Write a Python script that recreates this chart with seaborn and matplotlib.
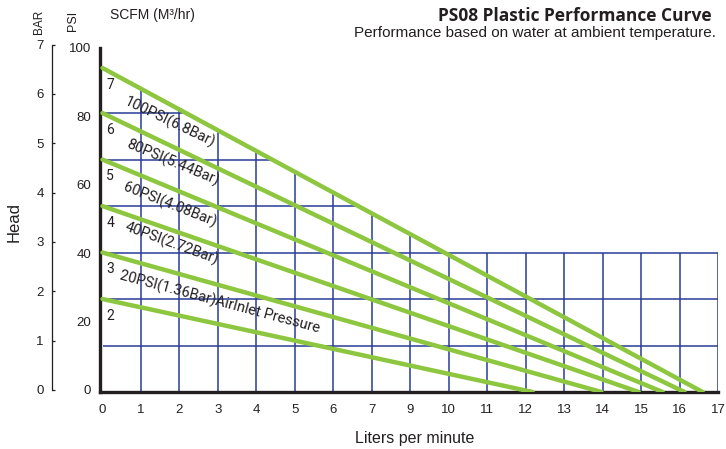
import numpy as np
import pandas as pd
import matplotlib
matplotlib.use("Agg")
import matplotlib.pyplot as plt
import seaborn as sns

# ---------------- data ----------------
flow_tick_labels = ["0", "1", "2", "3", "4", "5", "6", "7", "9", "10",
                    "11", "12", "13", "14", "15", "16", "17"]
curve_numbers = [7, 6, 5, 4, 3, 2]
head_at_zero_flow = [6.97, 6.0, 5.0, 4.0, 3.0, 2.0]          # grid units
flow_at_zero_head = [15.6, 15.13, 14.56, 13.94, 12.97, 11.18]  # tick-slot units
pressure_labels = ["100PSI(6.8Bar)", "80PSI(5.44Bar)", "60PSI(4.08Bar)",
                   "40PSI(2.72Bar)", "20PSI(1.36Bar)AirInlet Pressure"]
psi_ticks = [0, 20, 40, 60, 80, 100]
bar_ticks = [0, 1, 2, 3, 4, 5, 6, 7]

rows = []
for c, h, f in zip(curve_numbers, head_at_zero_flow, flow_at_zero_head):
    rows.append({"flow": 0.0, "head": h, "curve": c})
    rows.append({"flow": f, "head": 0.0, "curve": c})
df = pd.DataFrame(rows)

# ---------------- style ----------------
sns.set_theme(style="white")
plt.rcParams["font.family"] = ["Liberation Sans", "DejaVu Sans"]

GREEN = "#8dc63f"
BLUE = "#2a3c96"
BLACK = "#231f20"
W, H = 726, 449

fig = plt.figure(figsize=(W / 100, H / 100), dpi=100)
fig.patch.set_facecolor("white")

ax = fig.add_axes([100 / W, 1 - 392 / H, 618 / W, 344 / H])
ax.set_xlim(-0.065, 16.0)
ax.set_ylim(0, 7.40)
ax.set_facecolor("white")

# grid restricted to area under the top curve / lower rectangle
top_h, top_f = head_at_zero_flow[0], flow_at_zero_head[0]
for i in range(1, 17):
    ytop = max(top_h * (1 - i / top_f), 3.0)
    ax.vlines(i, 0, ytop, color=BLUE, lw=1.1, zorder=1)
for k in range(1, 7):
    xend = 16.0 if k <= 3 else top_f * (1 - k / top_h)
    ax.hlines(k, 0, xend, color=BLUE, lw=1.1, zorder=1)

sns.lineplot(data=df, x="flow", y="head", units="curve", estimator=None,
             sort=False, color=GREEN, linewidth=3.2, ax=ax, legend=False,
             zorder=3)
ax.set_xlabel("")
ax.set_ylabel("")

ax.set_xticks(range(len(flow_tick_labels)))
ax.set_xticklabels(flow_tick_labels, fontsize=9.5, color=BLACK)
ax.set_yticks([])
ax.tick_params(axis="x", length=0, pad=8.5)
for s in ["top", "right"]:
    ax.spines[s].set_visible(False)
for s in ["left", "bottom"]:
    ax.spines[s].set_color(BLACK)
    ax.spines[s].set_linewidth(2.4)

# curve numbers
for c, h in zip(curve_numbers, head_at_zero_flow):
    ax.text(0.2, h - 0.36, str(c), fontsize=10, family="Roboto",
            color=BLACK, ha="center", va="center")

# pressure labels
label_pos = [(1.76, 5.80, -25.5), (1.82, 4.94, -22.5), (1.74, 4.03, -21.5),
             (1.79, 3.19, -20), (3.04, 1.93, -15)]
for txt, (x, y, r) in zip(pressure_labels, label_pos):
    ax.text(x, y, txt, fontsize=10.5, family="Roboto", color=BLACK,
            rotation=r, ha="center", va="center", rotation_mode="anchor")

# BAR axis
ax_bar = fig.add_axes([52 / W, 1 - 390 / H, 10 / W, (390 - 44.5) / H])
ax_bar.set_ylim(0, 7)
ax_bar.set_xlim(0, 1)
ax_bar.patch.set_alpha(0)
for s in ["top", "right", "bottom"]:
    ax_bar.spines[s].set_visible(False)
ax_bar.spines["left"].set_color(BLACK)
ax_bar.spines["left"].set_linewidth(0.9)
ax_bar.set_xticks([])
ax_bar.set_yticks(bar_ticks)
ax_bar.set_yticklabels([str(b) for b in bar_ticks], fontsize=9.5, color=BLACK)
ax_bar.set_yticks([0, 7], minor=True)
ax_bar.tick_params(axis="y", which="major", direction="in", length=2.5,
                   width=0.9, color=BLACK, pad=6, left=True)
ax_bar.tick_params(axis="y", which="minor", direction="in", length=4.5,
                   width=0.9, color=BLACK, left=True)

# PSI axis (labels only)
ax_psi = fig.add_axes([91 / W, 1 - 390 / H, 4 / W, (390 - 48) / H])
ax_psi.set_ylim(0, 100)
ax_psi.patch.set_alpha(0)
for s in ax_psi.spines.values():
    s.set_visible(False)
ax_psi.set_xticks([])
ax_psi.set_yticks(psi_ticks)
ax_psi.set_yticklabels([str(p) for p in psi_ticks], fontsize=9.5, color=BLACK)
ax_psi.tick_params(axis="y", length=0, pad=0)

# header texts
fig.text(39 / W, 1 - 22 / H, "BAR", rotation=90, fontsize=8.5, color=BLACK,
         ha="center", va="center")
fig.text(73 / W, 1 - 21 / H, "PSI", rotation=90, fontsize=9, color=BLACK,
         ha="center", va="center")
fig.text(110 / W, 1 - 15 / H, "SCFM (M³/hr)", fontsize=10, color=BLACK,
         ha="left", va="center")
fig.text(14 / W, 1 - 222 / H, "Head", rotation=90, fontsize=12, color=BLACK,
         ha="center", va="center")
fig.text(415 / W, 1 - 438 / H, "Liters per minute", fontsize=11.5,
         color=BLACK, ha="center", va="center")
fig.text(712 / W, 1 - 16 / H, "PS08 Plastic Performance Curve",
         fontsize=12.5, fontweight="bold", family="Open Sans", color=BLACK,
         ha="right", va="center")
fig.text(716 / W, 1 - 33 / H,
         "Performance based on water at ambient temperature.",
         fontsize=11, color=BLACK, ha="right", va="center")

fig.savefig("out.png", dpi=100, facecolor="white")
